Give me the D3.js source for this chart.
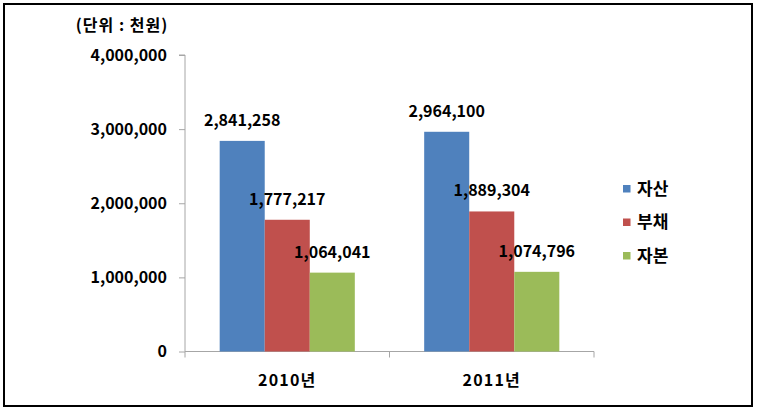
<!DOCTYPE html>
<html><head><meta charset="utf-8">
<script src="https://cdn.jsdelivr.net/npm/d3@7"></script>
<style>
html,body{margin:0;padding:0;background:#fff;}
text{font-family:"Noto Sans CJK KR","Noto Sans",sans-serif;font-weight:bold;fill:#000;}
</style></head>
<body><svg id="c" width="763" height="416"></svg>
<script>
const categories = ["2010년", "2011년"];
const seriesNames = ["자산", "부채", "자본"];
const seriesColors = ["#4F81BD", "#C0504D", "#9BBB59"];
const assets = [2841258, 2964100];
const liabilities = [1777217, 1889304];
const equity = [1064041, 1074796];
const yTicks = [0, 1000000, 2000000, 3000000, 4000000];
const unitLabel = "(단위 : 천원)";

const seriesValues = [assets, liabilities, equity];
const svg = d3.select("#c");

svg.append("rect").attr("x",4).attr("y",4).attr("width",748).attr("height",402)
  .attr("fill","#fff").attr("stroke","#000").attr("stroke-width",2);

const plot = {left:185, right:594, top:55, bottom:351.5};
const y = d3.scaleLinear().domain([0,4000000]).range([plot.bottom, plot.top]);
const x0 = d3.scaleBand().domain(categories).range([plot.left, plot.right]).paddingInner(0).paddingOuter(0);
const x1 = d3.scaleBand().domain(seriesNames).range([0, x0.bandwidth()]).paddingInner(0).paddingOuter(0.77);

// y axis
const yAxis = d3.axisLeft(y).tickValues(yTicks).tickFormat(d3.format(",")).tickSize(6).tickPadding(12);
const gy = svg.append("g").attr("transform",`translate(${plot.left},0)`).call(yAxis);
gy.select(".domain").attr("stroke","#A6A6A6").attr("d",`M-6,${plot.top}H0V${plot.bottom}`);
gy.selectAll(".tick line").attr("stroke","#A6A6A6");
gy.selectAll(".tick text").style("font-size","16px").attr("font-family",null);

// x axis
const gx = svg.append("g").attr("transform",`translate(0,${plot.bottom})`);
gx.append("line").attr("x1",plot.left).attr("x2",plot.right).attr("stroke","#A6A6A6");
const bounds = [plot.left].concat(categories.map(c=>x0(c)+x0.bandwidth()));
gx.selectAll(".xt").data(bounds).enter().append("line").attr("class","xt")
  .attr("x1",d=>d).attr("x2",d=>d).attr("y1",0).attr("y2",6).attr("stroke","#A6A6A6");
gx.selectAll(".xl").data(categories).enter().append("text").attr("class","xl")
  .attr("x",d=>x0(d)+x0.bandwidth()/2).attr("y",34).attr("text-anchor","middle")
  .style("font-size","16px").style("letter-spacing","1.2px").text(d=>d);

// bars
const groups = svg.selectAll(".grp").data(categories).enter().append("g")
  .attr("transform",d=>`translate(${x0(d)},0)`);
groups.each(function(cat, ci){
  const g = d3.select(this);
  seriesNames.forEach((s, si)=>{
    const v = seriesValues[si][ci];
    g.append("rect").attr("x",x1(s)).attr("width",x1.bandwidth())
      .attr("y",y(v)).attr("height",plot.bottom - y(v)).attr("fill",seriesColors[si]);
    g.append("text").attr("x",x1(s)+x1.bandwidth()/2).attr("y",y(v)-15)
      .attr("text-anchor","middle").style("font-size","16px").text(d3.format(",")(v));
  });
});

// unit label
svg.append("text").attr("x",122).attr("y",31).attr("text-anchor","middle")
  .style("font-size","16px").style("letter-spacing","1px").text(unitLabel);

// legend
const leg = svg.append("g").attr("transform","translate(623,188.5)");
seriesNames.forEach((s,i)=>{
  const gi = leg.append("g").attr("transform",`translate(0,${i*33.5})`);
  gi.append("rect").attr("x",0).attr("y",-3.5).attr("width",7.5).attr("height",7.5).attr("fill",seriesColors[i]);
  gi.append("text").attr("x",14).attr("y",0).attr("dy","0.38em").style("font-size","17px").text(s);
});
</script></body></html>
